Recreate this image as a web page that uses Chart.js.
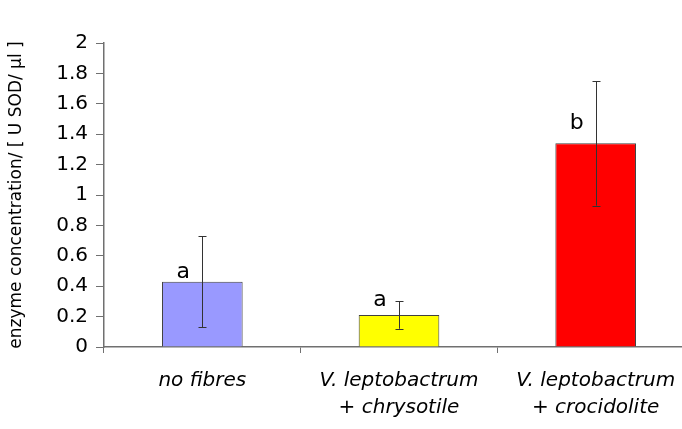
<!DOCTYPE html>
<html><head><meta charset="utf-8">
<script src="https://cdn.jsdelivr.net/npm/chart.js@4"></script>
<style>
html,body{margin:0;padding:0;overflow:hidden;background:#fff;width:682px;height:429px}
canvas{display:block}
</style>
</head><body>
<canvas id="c" width="695" height="429"></canvas>
<script>
// ---- data ----
const categories = [["no fibres"], ["V. leptobactrum", "+ chrysotile"], ["V. leptobactrum", "+ crocidolite"]];
const means = [0.43, 0.21, 1.34];
const errors = [0.30, 0.09, 0.41];
const groupLetters = ["a", "a", "b"];
const barColors = ["#9999FF", "#FFFF00", "#FF0000"];
const yTickValues = [0, 0.2, 0.4, 0.6, 0.8, 1, 1.2, 1.4, 1.6, 1.8, 2];
const yTickLabels = ["0", "0.2", "0.4", "0.6", "0.8", "1", "1.2", "1.4", "1.6", "1.8", "2"];
const yTitle = "enzyme concentration/ [ U SOD/ µl ]";

const errorBarPlugin = {
  id: 'errorBars',
  afterDatasetsDraw(chart, args, opts) {
    const ctx = chart.ctx;
    const y = chart.scales.y;
    const meta = chart.getDatasetMeta(0);
    ctx.save();
    meta.data.forEach((bar, i) => {
      const top = y.getPixelForValue(means[i] + errors[i]);
      const bot = y.getPixelForValue(means[i] - errors[i]);
      const x = Math.round(bar.x) + 0.5;
      ctx.strokeStyle = opts.color;
      ctx.lineWidth = 1;
      ctx.beginPath();
      ctx.moveTo(x, top);
      ctx.lineTo(x, bot);
      ctx.moveTo(x - opts.cap, Math.round(top) + 0.5);
      ctx.lineTo(x + opts.cap, Math.round(top) + 0.5);
      ctx.moveTo(x - opts.cap, Math.round(bot) + 0.5);
      ctx.lineTo(x + opts.cap, Math.round(bot) + 0.5);
      ctx.stroke();
      ctx.fillStyle = '#000';
      ctx.font = opts.letterFont;
      ctx.textAlign = 'center';
      ctx.textBaseline = 'alphabetic';
      ctx.fillText(groupLetters[i], bar.x + opts.letterDx, bar.y - opts.letterOffsets[i]);
    });
    ctx.restore();
  }
};

new Chart(document.getElementById('c'), {
  type: 'bar',
  data: {
    labels: categories,
    datasets: [{
      data: means,
      backgroundColor: barColors,
      borderColor: '#404040',
      borderWidth: 1,
      barPercentage: 0.41,
      categoryPercentage: 1.0
    }]
  },
  options: {
    responsive: false,
    animation: false,
    devicePixelRatio: 1,
    layout: { padding: { left: 4, right: 1, top: 43, bottom: 0 } },
    plugins: {
      legend: { display: false },
      tooltip: { enabled: false },
      errorBars: { color: '#333333', cap: 4, letterFont: '22px "DejaVu Sans"', letterDx: -19, letterOffsets: [4, 9, 14] }
    },
    scales: {
      x: {
        offset: true,
        grid: { display: true, drawOnChartArea: false, drawTicks: true, tickLength: 6, color: '#707070', offset: true },
        border: { display: true, color: '#707070', width: 1.5 },
        ticks: {
          color: '#000',
          padding: 14,
          font: { family: 'DejaVu Sans', size: 20, style: 'italic', lineHeight: 1.35 },
          maxRotation: 0, autoSkip: false
        },
        afterFit(scale) { scale.height = 429 - 347; }
      },
      y: {
        min: yTickValues[0], max: yTickValues[yTickValues.length - 1],
        afterBuildTicks(scale) { scale.ticks = yTickValues.map(v => ({ value: v })); },
        grid: { display: true, drawOnChartArea: false, drawTicks: true, tickLength: 8, color: '#707070' },
        border: { display: true, color: '#707070', width: 1.5 },
        ticks: {
          color: '#000',
          padding: 8,
          font: { family: 'DejaVu Sans', size: 20 },
          callback: (v, i) => yTickLabels[i]
        },
        title: {
          display: true,
          text: yTitle,
          color: '#000',
          font: { family: 'DejaVu Sans', size: 17 },
          padding: { top: 2, bottom: 0 }
        },
        afterFit(scale) { scale.width = 104 - 4; }
      }
    }
  },
  plugins: [errorBarPlugin]
});
</script>
</body></html>
